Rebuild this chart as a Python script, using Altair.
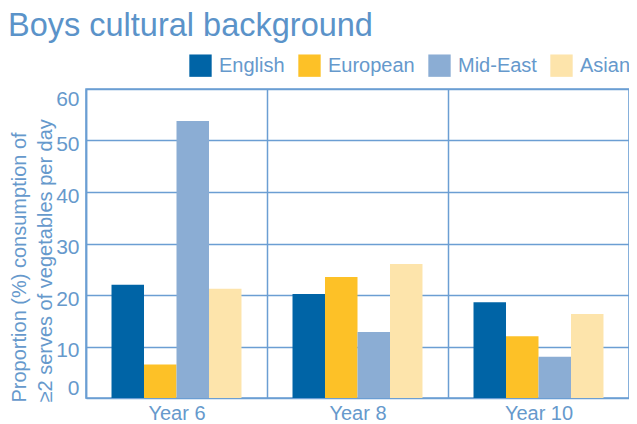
import altair as alt
import pandas as pd

years = ["Year 6", "Year 8", "Year 10"]
groups = ["English", "European", "Mid-East", "Asian"]
english = [22.0, 20.2, 18.6]
european = [6.5, 23.5, 12.0]
mideast = [53.8, 12.8, 8.0]
asian = [21.2, 26.0, 16.3]
colors = ["#0064a6", "#fdc127", "#8badd4", "#fde4ab"]

rows = []
for series, vals in zip(groups, [english, european, mideast, asian]):
    for y, v in zip(years, vals):
        rows.append({"year": y, "group": series, "value": v})
df = pd.DataFrame(rows)

TXT = "#6699cc"
LINE = "#6b9ed3"
FONT = "Liberation Sans"

chart = alt.Chart(df).mark_bar().encode(
    x=alt.X("year:N", sort=years, title=None,
            scale=alt.Scale(paddingInner=0, paddingOuter=0),
            axis=alt.Axis(tickBand="extent", grid=True, ticks=False, domain=False,
                          labelAngle=0, labelFontSize=20, labelColor=TXT, labelFont=FONT,
                          labelPadding=5, gridColor=LINE, gridWidth=1.5)),
    xOffset=alt.XOffset("group:N", sort=groups,
                        scale=alt.Scale(paddingInner=0, paddingOuter=0.785)),
    y=alt.Y("value:Q", scale=alt.Scale(domain=[0, 60], nice=False),
            title=["Proportion (%) consumption of", "\u22652 serves  of vegetables per day"],
            axis=alt.Axis(values=[0, 10, 20, 30, 40, 50, 60], ticks=False, domain=True,
                          domainColor=LINE, domainWidth=1.5,
                          gridColor=LINE, gridWidth=1.5,
                          labelFontSize=21, labelColor=TXT, labelFont=FONT, labelPadding=7,
                          labelOffset={"condition": [{"test": "datum.value == 60", "value": 10},
                                                     {"test": "datum.value == 0", "value": -10}],
                                       "value": 4},
                          titleFontSize=20, titleColor=TXT, titleFont=FONT, titleFontWeight="normal",
                          titleAngle=-90, titleAlign="left", titleBaseline="middle",
                          titleLineHeight=26, titleX=-67, titleY=313)),
    color=alt.Color("group:N", sort=groups,
                    scale=alt.Scale(domain=groups, range=colors),
                    legend=alt.Legend(title=None, orient="none", direction="horizontal",
                                      legendX=103, legendY=-35,
                                      symbolType="square", symbolSize=500, symbolStrokeWidth=0,
                                      symbolOpacity=1,
                                      labelFontSize=20, labelColor=TXT, labelFont=FONT,
                                      labelOffset=7, columnPadding=13)),
).properties(
    width=543, height=309,
    title=alt.TitleParams("Boys cultural background", anchor="start", frame="group",
                          dx=-78, dy=33, offset=19, fontSize=32.5, font=FONT, fontWeight="normal",
                          color="#5b93c9", baseline="alphabetic"),
    autosize=alt.AutoSizeParams(type="none"),
    padding={"left": 78, "top": 81, "right": 0, "bottom": 24},
).configure_view(stroke=LINE, strokeWidth=1.5)

chart.save("out.html", embed_options={"renderer": "svg", "actions": False})
